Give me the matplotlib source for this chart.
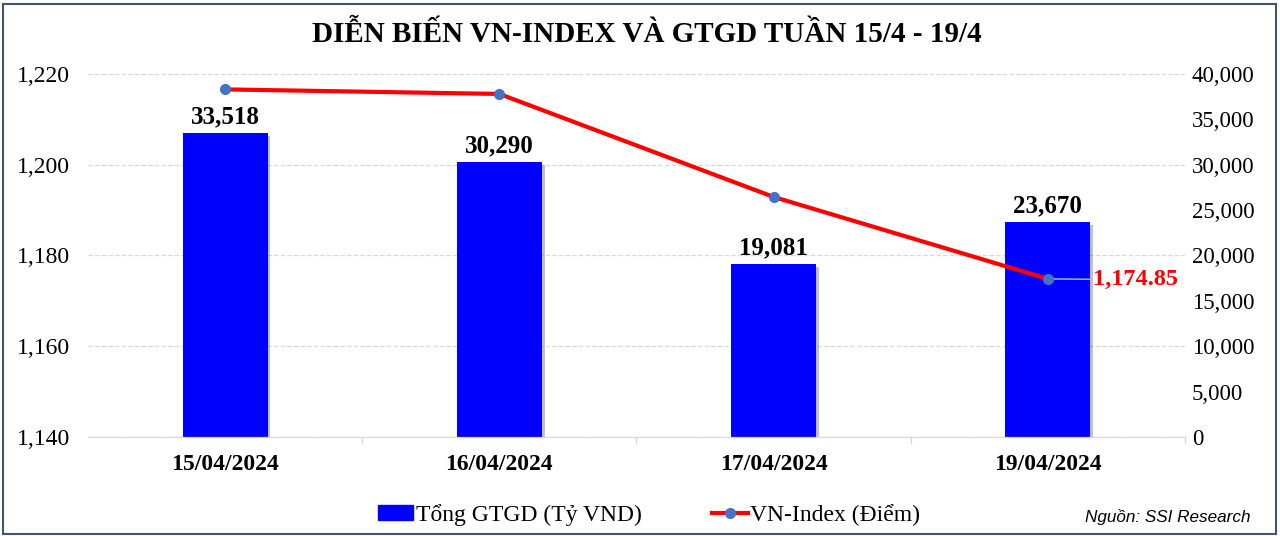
import matplotlib.pyplot as plt
import matplotlib.patches as mpatches
import matplotlib.patheffects as pe
from matplotlib.ticker import FuncFormatter

dates = ["15/04/2024", "16/04/2024", "17/04/2024", "19/04/2024"]
gtgd = [33518, 30290, 19081, 23670]
vnindex = [1216.6, 1215.6, 1192.9, 1174.85]

plt.rcParams['font.family'] = ['Liberation Serif', 'DejaVu Serif']

fig = plt.figure(figsize=(12.8, 5.36), dpi=100)
ax = fig.add_axes([0.06875, 0.1847, 0.857, 0.6773])
ax2 = ax.twinx()

x = range(len(dates))

# bars on right axis, drawn behind the line
ax2.set_ylim(0, 40000)
ax2.set_yticks(range(0, 40001, 5000))
for t in ax2.get_yticks()[::2]:
    ax2.axhline(t, color='#D9D9D9', linestyle='--', lw=0.9, zorder=0)
ax2.bar(x, gtgd, width=0.31, color='#0000FF', zorder=2,
        path_effects=[pe.SimplePatchShadow(offset=(2, -2), alpha=0.25), pe.Normal()])
for i, v in enumerate(gtgd):
    ax2.text(i, v + 500, f"{v:,}", ha='center', va='bottom', fontsize=18,
             fontweight='bold', zorder=5)
ax2.yaxis.set_major_formatter(FuncFormatter(lambda v, p: f"{int(v):,}"))

ax.set_zorder(ax2.get_zorder() + 1)
ax.patch.set_visible(False)
ax.plot(x, vnindex, color='#FF0000', lw=3, marker='o', markersize=7,
        markerfacecolor='#4472C4', markeredgecolor='#4472C4', zorder=4)
ax.set_ylim(1140, 1220)
ax.set_yticks(range(1140, 1221, 20))
ax.yaxis.set_major_formatter(FuncFormatter(lambda v, p: f"{int(v):,}"))
ax.set_xlim(-0.5, 3.5)
ax.set_xticks(list(x))
ax.set_xticklabels(dates, fontsize=17, fontweight='bold')
ax.tick_params(axis='x', length=0, pad=12)

# last value label with leader line
ax.annotate(f"{vnindex[-1]:,.2f}", xy=(3, vnindex[-1]), xytext=(3.165, vnindex[-1] - 0.2),
            color='#FF0000', fontsize=17.5, fontweight='bold', va='center', ha='left',
            arrowprops=dict(arrowstyle='-', color='#A6C8F0', lw=1, shrinkA=0, shrinkB=0))

for a in (ax, ax2):
    for s in ('top', 'left', 'right'):
        a.spines[s].set_visible(False)
    a.spines['bottom'].set_color('#D9D9D9')
ax.tick_params(axis='y', length=0, labelsize=17, pad=13)
ax2.tick_params(axis='y', length=0, labelsize=16.5, pad=5)
ax2.tick_params(axis='x', length=0)

# separators between categories on the x axis
for b in [0.5, 1.5, 2.5, 3.5]:
    ax.plot([b, b], [1140, 1138.6], color='#D9D9D9', lw=1, clip_on=False)

fig.text(0.505, 0.935, "DIỄN BIẾN VN-INDEX VÀ GTGD TUẦN 15/4 - 19/4", fontsize=21,
         fontweight='bold', ha='center', va='center')

handles = [mpatches.Patch(color='#0000FF', label='Tổng GTGD (Tỷ VND)'),
           plt.Line2D([], [], color='#FF0000', lw=3, marker='o', markersize=7,
                      markerfacecolor='#4472C4', markeredgecolor='#4472C4',
                      label='VN-Index (Điểm)')]
fig.legend(handles=handles, loc='center', bbox_to_anchor=(0.507, 0.04), ncol=2,
           frameon=False, fontsize=17, handlelength=1.5, handletextpad=0.1,
           columnspacing=3.0, handleheight=0.6)

fig.text(0.977, 0.035, "Nguồn: SSI Research", ha='right', va='center',
         fontsize=12.3, style='italic', family=['Liberation Sans', 'DejaVu Sans'])

fig.patches.append(mpatches.Rectangle((0.002, 0.003), 0.995, 0.99, transform=fig.transFigure,
                                      fill=False, edgecolor='#44546A', lw=1.5))

fig.savefig('out.png', dpi=100)
